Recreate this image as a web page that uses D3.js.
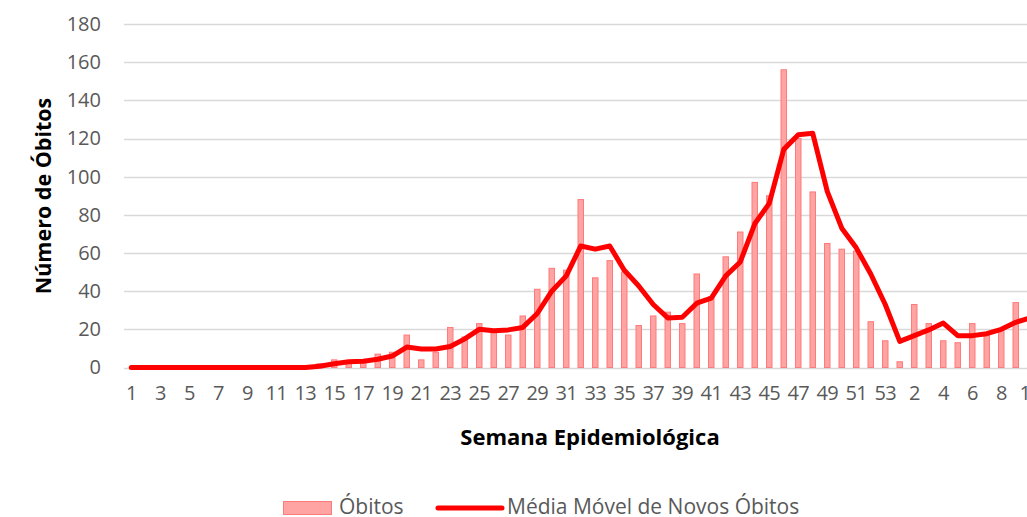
<!DOCTYPE html>
<html>
<head>
<meta charset="utf-8">
<script src="https://cdn.jsdelivr.net/npm/d3@7"></script>
<style>
  body { margin: 0; background: #fff; }
  svg { display: block; }
</style>
</head>
<body>
<svg id="chart"></svg>
<script>
// semanas epidemiologicas (ano 1: 1..53, ano 2: 1..10)
var semanas = [1,2,3,4,5,6,7,8,9,10,11,12,13,14,15,16,17,18,19,20,21,22,23,24,25,26,27,
  28,29,30,31,32,33,34,35,36,37,38,39,40,41,42,43,44,45,46,47,48,49,50,51,52,53,
  1,2,3,4,5,6,7,8,9,10];

var obitos = [0,0,0,0,0,0,0,0,0,0,0,0,0,2,4,3,3,7,8,17,4,8,21,16,23,19,17,
  27,41,52,51,88,47,56,50,22,27,29,23,49,37,58,71,97,90,156,120,92,65,62,61,24,14,
  3,33,23,14,13,23,17,20,34,24];

var mediaMovel = [0,0,0,0,0,0,0,0,0,0,0,0,0,0.7,2,3,3.3,4.3,6,10.7,9.7,9.7,11,15,20,19.3,19.7,
  21,28.3,40,48,63.7,62,63.7,51,42.7,33,26,26.3,33.7,36.3,48,55.3,75.3,86,114.3,122,122.7,92.3,73,62.7,49,33,
  13.7,16.7,19.7,23.3,16.7,16.7,17.7,20,23.7,26];

var yTicks = [0,20,40,60,80,100,120,140,160,180];

var W = 1027, H = 517;
var left = 124, step = 14.5;
var font = "'Open Sans', sans-serif";

var svg = d3.select("#chart").attr("width", W).attr("height", H);

var idx = d3.range(semanas.length);
var x = d3.scaleBand().domain(idx).range([left, left + step * semanas.length]).padding(0);
var y = d3.scaleLinear().domain([0, 180]).range([367.5, 24]);

// grade horizontal
svg.append("g").selectAll("line")
  .data(yTicks)
  .enter().append("line")
  .attr("x1", left)
  .attr("x2", W)
  .attr("y1", function(d) { return Math.round(y(d)) + 0.5; })
  .attr("y2", function(d) { return Math.round(y(d)) + 0.5; })
  .attr("stroke", "#d9d9d9")
  .attr("stroke-width", 1.3);

// eixo y
var yAxis = svg.append("g")
  .attr("transform", "translate(" + (left - 13) + ",0)")
  .call(d3.axisLeft(y).tickValues(yTicks).tickSize(0).tickPadding(10));
yAxis.select(".domain").remove();
yAxis.selectAll("text")
  .attr("fill", "#595959")
  .style("font-family", font)
  .style("font-size", "20px");

// eixo x
var xAxis = svg.append("g")
  .attr("transform", "translate(0,376)")
  .call(d3.axisBottom(x)
    .tickValues(idx.filter(function(i) { return i % 2 == 0; }))
    .tickFormat(function(i) { return semanas[i]; })
    .tickSize(0).tickPadding(10));
xAxis.select(".domain").remove();
xAxis.selectAll("text")
  .attr("fill", "#595959")
  .style("font-family", font)
  .style("font-size", "20px")
  .style("letter-spacing", "-0.8px");

// barras
var bw = 5.5;
svg.append("g").selectAll("rect")
  .data(obitos)
  .enter().append("rect")
  .attr("x", function(d, i) { return x(i) + x.bandwidth() / 2 - bw / 2; })
  .attr("y", function(d) { return y(d); })
  .attr("width", bw)
  .attr("height", function(d) { return y(0) - y(d); })
  .attr("fill", "#ffa3a3")
  .attr("stroke", "#ff7a7a")
  .attr("stroke-width", 1);

// media movel
var line = d3.line()
  .x(function(d, i) { return x(i) + x.bandwidth() / 2; })
  .y(function(d) { return y(d); });

svg.append("path")
  .datum(mediaMovel)
  .attr("d", line)
  .attr("fill", "none")
  .attr("stroke", "#ff0000")
  .attr("stroke-width", 5)
  .attr("stroke-linejoin", "round")
  .attr("stroke-linecap", "round");

// titulos dos eixos
svg.append("text")
  .attr("x", 590)
  .attr("y", 445)
  .attr("text-anchor", "middle")
  .style("font-family", font)
  .style("font-size", "22px")
  .style("font-weight", "bold")
  .text("Semana Epidemiológica");

svg.append("text")
  .attr("transform", "translate(51,196) rotate(-90)")
  .attr("text-anchor", "middle")
  .style("font-family", font)
  .style("font-size", "21.5px")
  .style("font-weight", "bold")
  .text("Número de Óbitos");

// legenda
var leg = svg.append("g");
leg.append("rect")
  .attr("x", 283.5).attr("y", 501.5)
  .attr("width", 48).attr("height", 13)
  .attr("fill", "#ffa3a3")
  .attr("stroke", "#ff7a7a");
leg.append("text")
  .attr("x", 339).attr("y", 514)
  .attr("fill", "#595959")
  .style("font-family", font)
  .style("font-size", "21px")
  .text("Óbitos");
leg.append("line")
  .attr("x1", 438).attr("x2", 502)
  .attr("y1", 508).attr("y2", 508)
  .attr("stroke", "#ff0000")
  .attr("stroke-width", 5)
  .attr("stroke-linecap", "round");
leg.append("text")
  .attr("x", 507).attr("y", 514)
  .attr("fill", "#595959")
  .style("font-family", font)
  .style("font-size", "21px")
  .text("Média Móvel de Novos Óbitos");
</script>
</body>
</html>
